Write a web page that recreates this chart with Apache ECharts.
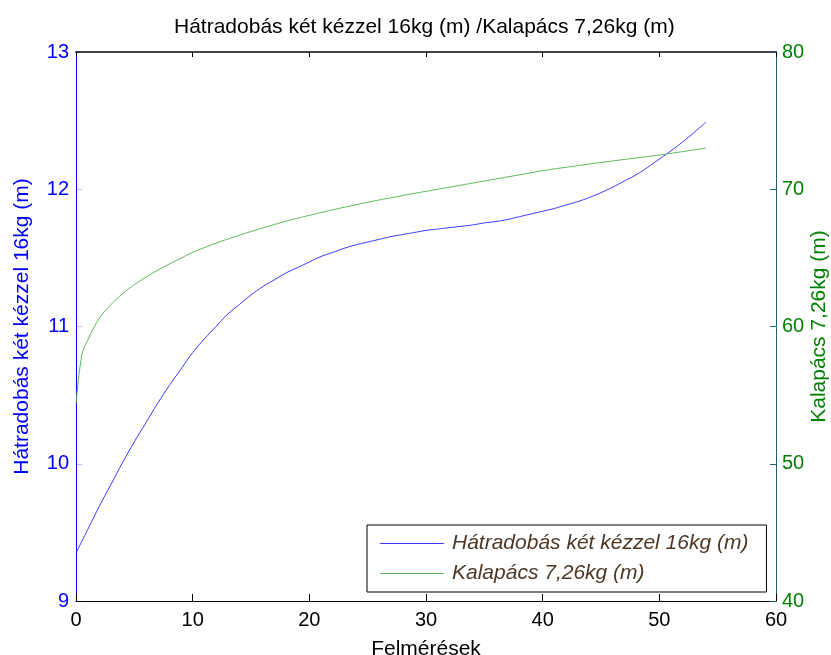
<!DOCTYPE html>
<html>
<head>
<meta charset="utf-8">
<script src="https://cdn.jsdelivr.net/npm/echarts@6/dist/echarts.min.js"></script>
<style>html,body{margin:0;padding:0;background:#fff}#c{width:831px;height:655px}</style>
</head>
<body>
<div id="c"></div>
<script>
const titleText = 'Hátradobás két kézzel 16kg (m) /Kalapács 7,26kg (m)';
const xName = 'Felmérések';
const seriesNames = ['Hátradobás két kézzel 16kg (m)', 'Kalapács 7,26kg (m)'];
const xValues = [0,0.5,1,2,3,4,5,6,7,8,9,10,11,12,13,14,15,16,17,18,19,20,21,22,23,24,25,26,27,28,29,30,31,32,33,34,35,36,37,38,39,40,41,42,43,44,45,46,47,48,49,50,51,52,53,54];
const hatradobas = [9.35,9.435,9.52,9.69,9.85,10.01,10.16,10.30,10.44,10.57,10.69,10.81,10.91,11.00,11.09,11.16,11.23,11.29,11.34,11.39,11.43,11.47,11.51,11.54,11.57,11.595,11.615,11.635,11.655,11.67,11.685,11.70,11.71,11.72,11.73,11.74,11.755,11.765,11.78,11.80,11.82,11.84,11.86,11.885,11.91,11.94,11.975,12.015,12.06,12.105,12.16,12.22,12.28,12.345,12.415,12.49];
const kalapacs = [54.3,57.9,59.0,60.6,61.6,62.4,63.05,63.6,64.1,64.55,64.98,65.4,65.75,66.07,66.37,66.65,66.92,67.18,67.43,67.67,67.89,68.1,68.3,68.5,68.69,68.87,69.05,69.22,69.38,69.54,69.7,69.85,70.0,70.15,70.3,70.45,70.6,70.75,70.9,71.05,71.2,71.35,71.48,71.6,71.72,71.84,71.95,72.06,72.17,72.28,72.39,72.5,72.62,72.74,72.87,73.0];

const font = 'Liberation Sans, Arial, sans-serif';
const chart = echarts.init(document.getElementById('c'), null, {renderer: 'canvas'});
chart.setOption({
  animation: false,
  backgroundColor: '#fff',
  title: {
    text: titleText, left: 174, top: 17, padding: 0,
    textStyle: {fontFamily: font, fontSize: 21, fontWeight: 'normal', color: '#000'}
  },
  grid: {left: 76, right: 55, top: 52, bottom: 54, outerBoundsMode: 'none', containLabel: false},
  legend: {
    orient: 'vertical', left: 367, top: 525,
    backgroundColor: '#fff', borderColor: '#000', borderWidth: 1,
    padding: [8, 18, 8, 13], itemGap: 9, itemWidth: 64, itemHeight: 1, icon: 'rect',
    textStyle: {fontFamily: font, fontSize: 21, fontStyle: 'italic', color: '#4d3826', padding: [0,0,0,3]},
    data: seriesNames
  },
  xAxis: [{
    type: 'value', min: 0, max: 60, interval: 10,
    name: xName, nameLocation: 'middle', nameGap: 38, nameMoveOverlap: false,
    nameTextStyle: {fontFamily: font, fontSize: 21, color: '#000'},
    axisLine: {onZero: false, lineStyle: {color: '#000', width: 1}},
    axisTick: {inside: true, length: 7, lineStyle: {color: '#000'}},
    axisLabel: {fontFamily: font, fontSize: 20, color: '#000', margin: 9},
    splitLine: {show: false}
  }, {
    type: 'value', min: 0, max: 60, interval: 10, position: 'top',
    axisLine: {onZero: false, lineStyle: {color: '#444', width: 2}},
    axisTick: {inside: true, length: 5, lineStyle: {color: '#000'}},
    axisLabel: {show: false},
    splitLine: {show: false}
  }],
  yAxis: [{
    type: 'value', min: 9, max: 13, interval: 1, position: 'left',
    name: seriesNames[0], nameLocation: 'middle', nameGap: 43, nameRotate: 90, nameMoveOverlap: false,
    nameTextStyle: {fontFamily: font, fontSize: 21, color: '#0000ff'},
    axisLine: {show: true, onZero: false, lineStyle: {color: '#0000ff', width: 1}},
    axisTick: {show: true, inside: true, length: 6, lineStyle: {color: 'rgba(0,0,255,0.25)'}},
    axisLabel: {fontFamily: font, fontSize: 20, color: '#0000ff', margin: 7},
    splitLine: {show: false}
  }, {
    type: 'value', min: 40, max: 80, interval: 10, position: 'right',
    name: seriesNames[1], nameLocation: 'middle', nameGap: 33, nameRotate: 90, nameMoveOverlap: false,
    nameTextStyle: {fontFamily: font, fontSize: 21, color: '#008000'},
    axisLine: {show: true, onZero: false, lineStyle: {color: '#1f5f78', width: 1}},
    axisTick: {show: true, inside: true, length: 6, lineStyle: {color: '#1f5f78'}},
    axisLabel: {fontFamily: font, fontSize: 20, color: '#008000', margin: 6},
    splitLine: {show: false}
  }],
  series: [{
    name: seriesNames[0], type: 'line', xAxisIndex: 0, yAxisIndex: 0,
    data: xValues.map((x, i) => [x, hatradobas[i]]),
    symbol: 'none', smooth: 0.4,
    lineStyle: {color: '#3a3aff', width: 1}, itemStyle: {color: '#3a3aff'}
  }, {
    name: seriesNames[1], type: 'line', xAxisIndex: 0, yAxisIndex: 1,
    data: xValues.map((x, i) => [x, kalapacs[i]]),
    symbol: 'none', smooth: 0.4,
    lineStyle: {color: '#5cb85c', width: 1}, itemStyle: {color: '#5cb85c'}
  }]
});
</script>
</body>
</html>
